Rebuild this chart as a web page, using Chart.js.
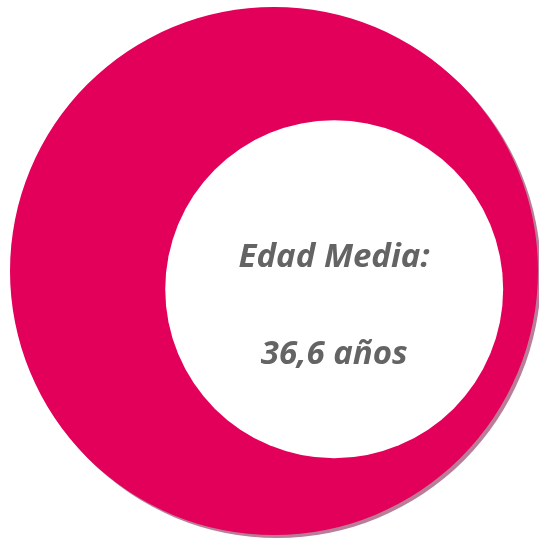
<!DOCTYPE html>
<html>
<head>
<meta charset="utf-8">
<script src="https://cdn.jsdelivr.net/npm/chart.js@4/dist/chart.umd.min.js"></script>
<style>
  body { margin: 0; background: #fff; }
  #caja { width: 539px; height: 541px; }
</style>
</head>
<body>
<div id="caja"><canvas id="myChart"></canvas></div>
<script>
// datos
const etiquetas = ["Edad Media"]
const valores = [36.6]
const unidad = "años"

const colorRosa = "#E3005A"
const colorTexto = "#646464"

// sombra debajo del circulo
const sombra = {
    id: "sombra",
    beforeDatasetsDraw(chart) {
        const ctx = chart.ctx
        ctx.save()
        ctx.shadowColor = "rgb(185, 125, 152)"
        ctx.shadowOffsetX = 3
        ctx.shadowOffsetY = 3
        ctx.shadowBlur = 0
    },
    afterDatasetsDraw(chart) {
        chart.ctx.restore()
    }
}

// circulo blanco y texto
const centro = {
    id: "centro",
    afterDraw(chart) {
        const ctx = chart.ctx
        const arco = chart.getDatasetMeta(0).data[0]
        const r = arco.outerRadius
        const cx = arco.x + r * 0.228
        const cy = arco.y + r * 0.069
        ctx.save()
        ctx.beginPath()
        ctx.arc(cx, cy, r * 0.64, 0, Math.PI * 2)
        ctx.fillStyle = "#fff"
        ctx.fill()

        ctx.fillStyle = colorTexto
        ctx.textAlign = "center"
        ctx.textBaseline = "alphabetic"
        ctx.font = "italic bold 33px 'Open Sans'"
        ctx.fillText(etiquetas[0] + ":", cx, cy - r * 0.085)
        const num = valores[0].toLocaleString("es-ES", { minimumFractionDigits: 1 })
        ctx.fillText(num + " " + unidad, cx, cy + r * 0.283)
        ctx.restore()
    }
}

const grafica = document.getElementById("myChart").getContext("2d")

const myChart = new Chart(grafica, {
    type: "pie",
    data: {
        labels: etiquetas,
        datasets: [
            {
                data: valores,
                backgroundColor: colorRosa,
                borderWidth: 0
            }
        ]
    },
    options: {
        responsive: true,
        maintainAspectRatio: false,
        animation: false,
        layout: {
            padding: { left: 10, right: 1, top: 7, bottom: 6 }
        },
        plugins: {
            legend: { display: false },
            tooltip: { enabled: false }
        }
    },
    plugins: [sombra, centro]
})
</script>
</body>
</html>
